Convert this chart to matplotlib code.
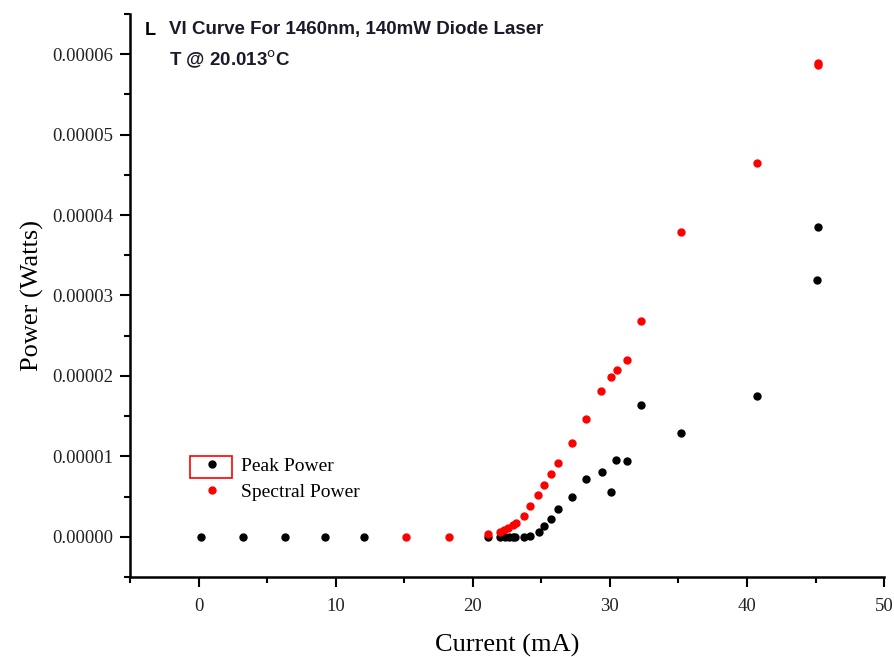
import matplotlib.pyplot as plt
from matplotlib.patches import Rectangle
from matplotlib.ticker import FormatStrFormatter, MultipleLocator

# Peak power (black)
peak_current = [0.2, 3.25, 6.3, 9.2, 12.1, 21.1, 22.0, 22.35, 22.65, 22.95, 23.1,
                23.7, 24.2, 24.8, 25.2, 25.7, 26.2, 27.2, 28.25, 29.4, 30.1,
                30.45, 31.25, 32.27, 35.2, 40.7, 45.2, 45.1]
peak_power = [0.0, 0.0, 0.0, 0.0, 0.0, 0.0, 0.0, 0.0, 0.0, 0.0, 0.0,
              0.0, 0.0125, 0.06, 0.13, 0.22, 0.34, 0.50, 0.72, 0.81, 0.56,
              0.96, 0.94, 1.64, 1.29, 1.75, 3.85, 3.19]

# Spectral power (red)
spec_current = [15.1, 18.3, 21.1, 22.0, 22.3, 22.6, 22.9, 23.15, 23.7, 24.2,
                24.75, 25.2, 25.7, 26.2, 27.2, 28.25, 29.35, 30.1, 30.5, 31.25,
                32.25, 35.2, 40.7, 45.2, 45.2]
spec_power = [0.0, 0.0, 0.03, 0.06, 0.08, 0.11, 0.14, 0.17, 0.26, 0.38,
              0.52, 0.64, 0.78, 0.92, 1.17, 1.47, 1.81, 1.98, 2.07, 2.20,
              2.68, 3.79, 4.65, 5.87, 5.89]

scale = 1e-5
peak_w = [v * scale for v in peak_power]
spec_w = [v * scale for v in spec_power]

serif = ['Liberation Serif', 'DejaVu Serif']
sans = ['Liberation Sans', 'DejaVu Sans']

fig = plt.figure(figsize=(8.94, 6.57), dpi=100)
ax = fig.add_axes([0.1454, 0.1218, 0.8436, 0.857])

ax.plot(peak_current, peak_w, 'o', color='black', markersize=5, label='Peak Power')
ax.plot(spec_current, spec_w, 'o', color='red', markersize=5, label='Spectral Power')

ax.set_xlim(-5, 50)
ax.set_ylim(-0.5e-5, 6.5e-5)
ax.xaxis.set_major_locator(MultipleLocator(10))
ax.xaxis.set_minor_locator(MultipleLocator(5))
ax.yaxis.set_major_locator(MultipleLocator(1e-5))
ax.yaxis.set_minor_locator(MultipleLocator(0.5e-5))
ax.yaxis.set_major_formatter(FormatStrFormatter('%.5f'))

for s in ['top', 'right']:
    ax.spines[s].set_visible(False)
for s in ['left', 'bottom']:
    ax.spines[s].set_linewidth(1.8)

ax.tick_params(which='major', direction='out', length=7, width=1.5,
               labelsize=13.5, labelcolor='#222222', pad=5)
ax.tick_params(axis='x', which='major', pad=8)
ax.tick_params(which='minor', direction='out', length=4, width=1.5)
for lbl in ax.get_xticklabels() + ax.get_yticklabels():
    lbl.set_family(serif)

ax.set_xlabel('Current (mA)', fontsize=19, family=serif, labelpad=14)
ax.set_ylabel('Power (Watts)', fontsize=19, family=serif, labelpad=6)

ax.text(0.02, 0.985, 'L', transform=ax.transAxes, fontsize=13, fontweight='bold',
        family=sans, va='top')
ax.text(0.052, 0.988, 'VI Curve For 1460nm, 140mW Diode Laser', transform=ax.transAxes,
        fontsize=13.5, fontweight='bold', family=sans, va='top', color='#1a1a2a')
ax.text(0.052, 0.94, 'T @ 20.013$^\\mathrm{o}$C', transform=ax.transAxes,
        fontsize=13.5, fontweight='bold', family=sans, va='top', color='#1a1a2a')

leg = ax.legend(loc='lower left', bbox_to_anchor=(0.072, 0.122), frameon=False,
                handletextpad=0.5, labelspacing=0.4, borderaxespad=0,
                prop={'family': serif, 'size': 14})

fig.patches.append(Rectangle((190 / 894, 1 - 478 / 657), 42 / 894, 22 / 657,
                             transform=fig.transFigure, fill=False,
                             edgecolor='red', linewidth=1.2))

fig.savefig('out.png', dpi=100, facecolor='white')
